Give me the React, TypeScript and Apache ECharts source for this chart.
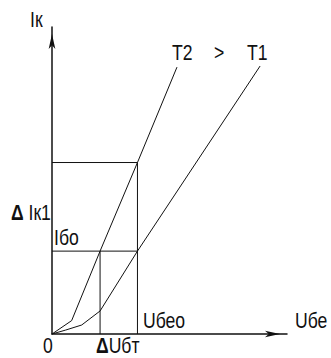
import React, { useEffect, useRef } from "react";
import * as echarts from "echarts";

// Transfer characteristics Iк(Uбе) of a transistor at two temperatures
const uT2 = [0, 0.92, 2.25, 4, 5.85];
const iT2 = [0, 0.61, 3.78, 7.82, 12.17];
const uT1 = [0, 0.64, 1.39, 2.25, 4, 9.74];
const iT1 = [0, 0.18, 0.41, 1.05, 3.78, 12.22];

// Operating point and temperature shift
const uBe0 = 4;
const dUbt = 2.25;
const iB0 = 3.78;
const iK1 = 7.82;

const uMax = 11;
const iMax = 14;

const FONT = "'Liberation Sans', Arial, sans-serif";
const INK = "#111";

export default function App() {
  const ref = useRef<HTMLDivElement>(null);

  useEffect(() => {
    if (!ref.current) return;
    const chart = echarts.init(ref.current, undefined, { renderer: "svg" });

    const line = (data: number[][], w = 1) => ({
      type: "line",
      data,
      symbol: "none",
      silent: true,
      lineStyle: { color: INK, width: w },
    });

    const label = (text: string, x: number, y: number) => ({
      type: "text",
      x,
      y,
      scaleX: 0.8,
      style: {
        text,
        fill: INK,
        font: `22px ${FONT}`,
        align: "left",
        verticalAlign: "middle",
        rich: {
          d: { fontSize: 22, fontFamily: FONT, fontWeight: "bold", fill: INK },
        },
      },
    });

    chart.setOption({
      animation: false,
      grid: { left: 52, top: 27, width: 235, height: 307 },
      xAxis: {
        type: "value",
        min: 0,
        max: uMax,
        axisLine: {
          show: true,
          symbol: ["none", "arrow"],
          symbolSize: [5, 15],
          symbolOffset: [0, -7],
          lineStyle: { color: INK, width: 1.5 },
        },
        axisTick: { show: false },
        axisLabel: { show: false },
        splitLine: { show: false },
      },
      yAxis: {
        type: "value",
        min: 0,
        max: iMax,
        axisLine: {
          show: true,
          symbol: ["none", "arrow"],
          symbolSize: [5, 15],
          symbolOffset: [0, -7],
          lineStyle: { color: INK, width: 1.5 },
        },
        axisTick: { show: false },
        axisLabel: { show: false },
        splitLine: { show: false },
      },
      series: [
        line(uT2.map((u, k) => [u, iT2[k]])),
        line(uT1.map((u, k) => [u, iT1[k]])),
        line([[0, iK1], [uBe0, iK1], [uBe0, 0]]),
        line([[0, iB0], [uBe0, iB0]]),
        line([[dUbt, 0], [dUbt, iB0]]),
      ],
      graphic: [
        label("Iк", 30, 19),
        label("T2", 172, 52),
        label(">", 214, 52),
        label("T1", 247, 52),
        label("{d|Δ} Iк1", 11, 212),
        label("Iбо", 54, 237),
        label("Uбео", 143, 320),
        label("Uбе", 295, 320),
        label("0", 43, 345),
        label("{d|Δ}Uбт", 96, 345),
      ],
    });

    return () => chart.dispose();
  }, []);

  return (
    <div
      ref={ref}
      style={{ position: "fixed", left: 0, top: 0, width: 331, height: 358, background: "#fff" }}
    />
  );
}
